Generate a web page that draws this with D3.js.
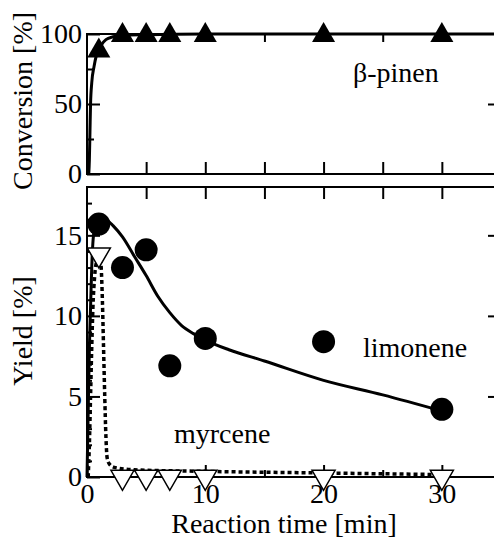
<!DOCTYPE html>
<head>
    <meta charset="utf-8">
    <script src="https://d3js.org/d3.v7.min.js"></script>
    <style>
        body { margin: 0; background: #fff; }
        text { font-family: "Liberation Serif", "Times New Roman", serif; fill: #000; }
    </style>
</head>
<body>
<svg width="494" height="539"></svg>

<script>

    // measured points
    var times = [1, 3, 5, 7, 10, 20, 30];
    var conversion = [88, 99, 99, 99, 99, 99, 99];
    var limonene = [15.7, 13.0, 14.1, 6.9, 8.6, 8.4, 4.2];
    var myrcene = [13.8, 0, 0, 0, 0, 0, 0];

    // fitted curves
    var convFitT = [0.15, 0.2, 0.25, 0.3, 0.4, 0.6, 0.8, 1.2, 1.6, 2.2, 3, 5, 10, 20, 35];
    var convFitY = [0, 10, 30, 50, 65, 77, 85, 92, 96, 98, 99, 99.5, 100, 100, 100];

    var limFitT = [0, 0.1, 0.2, 0.3, 0.4, 0.55, 0.8, 1.2, 1.6, 2.2, 3, 4, 5, 6, 7, 8, 9, 10, 12, 15, 20, 25, 30];
    var limFitY = [0, 4, 8, 10.5, 13, 15, 15.8, 16.1, 16.0, 15.6, 14.9, 13.7, 12.5, 11.2, 10.2, 9.4, 8.9, 8.5, 7.9, 7.2, 6.0, 5.1, 4.1];

    var myrFitT = [0.1, 0.2, 0.3, 0.4, 0.5, 0.65, 0.85, 1.05, 1.2, 1.3, 1.4, 1.5, 1.6, 1.7, 1.9, 2.3, 4, 10, 20, 30];
    var myrFitY = [0, 2, 5, 8, 10.5, 12.5, 13.5, 13.9, 13, 11, 8, 5, 2.5, 1.2, 0.8, 0.6, 0.45, 0.35, 0.25, 0.15];

    var svg = d3.select("svg");

    var x = d3.scaleLinear().domain([0, 35]).range([87, 501]);
    var yTop = d3.scaleLinear().domain([0, 100]).range([174, 34]);
    var yBot = d3.scaleLinear().domain([0, 18]).range([477, 187]);

    var fontSize = 28;

    function styleAxis(g) {
        g.select(".domain").remove();
        g.selectAll("line").attr("stroke", "#000").attr("stroke-width", 2);
        g.selectAll("text").style("font-size", fontSize + "px").style("font-family", "Liberation Serif, Times New Roman, serif");
    }

    // frames
    function frame(y) {
        svg.append("rect")
            .attr("x", x(0)).attr("y", y.range()[1])
            .attr("width", x(35) - x(0)).attr("height", y.range()[0] - y.range()[1])
            .attr("fill", "none").attr("stroke", "#000").attr("stroke-width", 2);
    }

    // ---- top panel axes ----
    svg.append("g").attr("transform", "translate(" + x(0) + ",0)")
        .call(d3.axisLeft(yTop).tickValues([0, 50, 100]).tickSizeInner(-13).tickSizeOuter(0).tickPadding(5))
        .call(styleAxis);
    svg.append("g").attr("transform", "translate(" + x(0) + ",0)")
        .call(d3.axisLeft(yTop).tickValues([25, 75]).tickSizeInner(-7).tickSizeOuter(0).tickFormat(""))
        .call(styleAxis);
    svg.append("g").attr("transform", "translate(" + x(35) + ",0)")
        .call(d3.axisRight(yTop).tickValues([50]).tickSizeInner(-13).tickSizeOuter(0).tickFormat(""))
        .call(styleAxis);
    svg.append("g").attr("transform", "translate(" + x(35) + ",0)")
        .call(d3.axisRight(yTop).tickValues([25, 75]).tickSizeInner(-7).tickSizeOuter(0).tickFormat(""))
        .call(styleAxis);
    svg.append("g").attr("transform", "translate(0," + yTop(0) + ")")
        .call(d3.axisBottom(x).tickValues([5, 10, 15, 20, 25, 30]).tickSizeInner(-12).tickSizeOuter(0).tickFormat(""))
        .call(styleAxis);
    svg.append("g").attr("transform", "translate(0," + yTop(100) + ")")
        .call(d3.axisTop(x).tickValues([5, 10, 15, 20, 25, 30]).tickSizeInner(-8).tickSizeOuter(0).tickFormat(""))
        .call(styleAxis);
    frame(yTop);

    // ---- bottom panel axes ----
    svg.append("g").attr("transform", "translate(" + x(0) + ",0)")
        .call(d3.axisLeft(yBot).tickValues([0, 5, 10, 15]).tickSizeInner(-13).tickSizeOuter(0).tickPadding(5))
        .call(styleAxis);
    svg.append("g").attr("transform", "translate(" + x(0) + ",0)")
        .call(d3.axisLeft(yBot).tickValues(d3.range(1, 18).filter(function(d) { return d % 5 != 0; })).tickSizeInner(-5).tickSizeOuter(0).tickFormat(""))
        .call(styleAxis);
    svg.append("g").attr("transform", "translate(" + x(35) + ",0)")
        .call(d3.axisRight(yBot).tickValues([5, 10, 15]).tickSizeInner(-13).tickSizeOuter(0).tickFormat(""))
        .call(styleAxis);
    svg.append("g").attr("transform", "translate(0," + yBot(18) + ")")
        .call(d3.axisTop(x).tickValues([5, 10, 15, 20, 25, 30]).tickSizeInner(-12).tickSizeOuter(0).tickFormat(""))
        .call(styleAxis);
    svg.append("g").attr("transform", "translate(0," + yBot(0) + ")")
        .call(d3.axisBottom(x).tickValues([0, 10, 20, 30]).tickSizeInner(-12).tickSizeOuter(0).tickPadding(6))
        .call(styleAxis);
    svg.append("g").attr("transform", "translate(0," + yBot(0) + ")")
        .call(d3.axisBottom(x).tickValues([5, 15, 25]).tickSizeInner(-7).tickSizeOuter(0).tickFormat(""))
        .call(styleAxis);
    frame(yBot);

    // ---- curves ----
    function curve(ts, ys, y, dash) {
        var pts = ts.map(function(t, i) { return [t, ys[i]]; });
        var line = d3.line()
            .x(function(d) { return x(d[0]); })
            .y(function(d) { return y(d[1]); })
            .curve(d3.curveMonotoneX);
        svg.append("path")
            .datum(pts)
            .attr("d", line)
            .attr("fill", "none")
            .attr("stroke", "#000")
            .attr("stroke-width", dash ? 3.5 : 3)
            .attr("stroke-dasharray", dash ? "4,3" : null);
    }

    curve(convFitT, convFitY, yTop, false);
    curve(limFitT, limFitY, yBot, false);
    curve(myrFitT, myrFitY, yBot, true);

    // ---- markers ----
    var tri = d3.symbol().type(d3.symbolTriangle).size(230);

    svg.append("g").selectAll("path")
        .data(times)
        .enter()
        .append("path")
        .attr("d", tri)
        .attr("transform", function(d, i) { return "translate(" + x(d) + "," + yTop(conversion[i]) + ")"; })
        .attr("fill", "#000");

    svg.append("g").selectAll("circle")
        .data(times)
        .enter()
        .append("circle")
        .attr("cx", function(d) { return x(d); })
        .attr("cy", function(d, i) { return yBot(limonene[i]); })
        .attr("r", 11.5)
        .attr("fill", "#000");

    svg.append("g").selectAll("path")
        .data(times)
        .enter()
        .append("path")
        .attr("d", tri)
        .attr("transform", function(d, i) { return "translate(" + x(d) + "," + yBot(myrcene[i]) + ") rotate(180)"; })
        .attr("fill", "#fff")
        .attr("stroke", "#000")
        .attr("stroke-width", 1.5);

    // ---- labels ----
    svg.append("text").attr("x", 353).attr("y", 82).style("font-size", fontSize + "px").text("β-pinen");
    svg.append("text").attr("x", 363).attr("y", 357).style("font-size", fontSize + "px").text("limonene");
    svg.append("text").attr("x", 174).attr("y", 443).style("font-size", fontSize + "px").text("myrcene");

    svg.append("text")
        .attr("transform", "translate(32,101) rotate(-90)")
        .attr("text-anchor", "middle")
        .style("font-size", fontSize + "px")
        .text("Conversion [%]");

    svg.append("text")
        .attr("transform", "translate(32,331) rotate(-90)")
        .attr("text-anchor", "middle")
        .style("font-size", fontSize + "px")
        .text("Yield [%]");

    svg.append("text")
        .attr("x", 284)
        .attr("y", 533)
        .attr("text-anchor", "middle")
        .style("font-size", fontSize + "px")
        .text("Reaction time [min]");

</script>
</body>
